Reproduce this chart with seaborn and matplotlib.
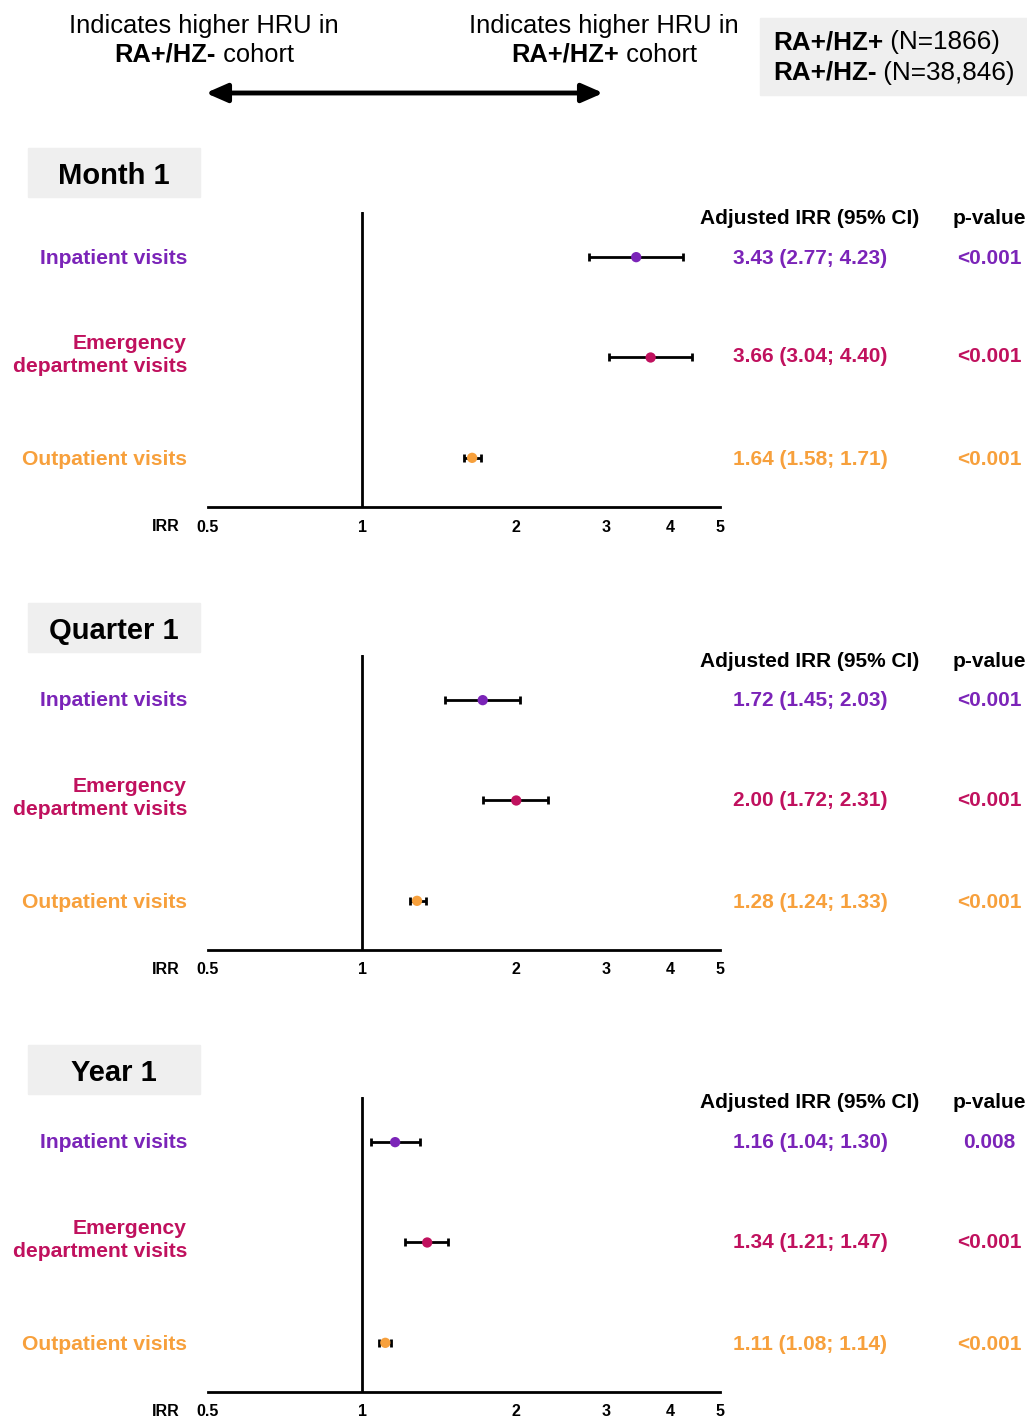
import numpy as np
import pandas as pd
import matplotlib
matplotlib.use("Agg")
import matplotlib.pyplot as plt
import seaborn as sns

# dados
periods = ["Month 1", "Quarter 1", "Year 1"]
outcomes = ["Inpatient visits", "Emergency\ndepartment visits", "Outpatient visits"]
irr = [[3.43, 3.66, 1.64], [1.72, 2.00, 1.28], [1.16, 1.34, 1.11]]
ci_low = [[2.77, 3.04, 1.58], [1.45, 1.72, 1.24], [1.04, 1.21, 1.08]]
ci_high = [[4.23, 4.40, 1.71], [2.03, 2.31, 1.33], [1.30, 1.47, 1.14]]
pvals = [["<0.001", "<0.001", "<0.001"], ["<0.001", "<0.001", "<0.001"], ["0.008", "<0.001", "<0.001"]]
xticks = [0.5, 1, 2, 3, 4, 5]
xticklabels = ["0.5", "1", "2", "3", "4", "5"]
colors = ["#7B24B8", "#C0115E", "#F7A03C"]

sns.set_theme(style="white")
plt.rcParams["font.family"] = ["Liberation Sans", "DejaVu Sans"]
plt.rcParams["text.color"] = "black"
plt.rcParams["xtick.color"] = "black"
plt.rcParams["xtick.labelcolor"] = "black"

W, H = 1027, 1418
fig = plt.figure(figsize=(W / 100, H / 100), dpi=100)


def fx(x):
    return x / W


def fy(y):
    return 1 - y / H


# cabecalho
fig.text(fx(204), fy(23), "Indicates higher HRU in", ha="center", va="center_baseline", fontsize=18.4)
fig.text(fx(604), fy(23), "Indicates higher HRU in", ha="center", va="center_baseline", fontsize=18.4)


def mixed(x, y, bold, normal, ha="center", size=18.4):
    # parte em negrito + parte normal na mesma linha
    t1 = fig.text(fx(x), fy(y), bold, fontsize=size, fontweight="bold", va="baseline", ha="left")
    t2 = fig.text(0, 0, normal, fontsize=size, va="baseline", ha="left")
    fig.canvas.draw()
    r = fig.canvas.get_renderer()
    w1 = t1.get_window_extent(r).width
    w2 = t2.get_window_extent(r).width
    x0 = x - (w1 + w2) / 2 if ha == "center" else x
    t1.set_position((fx(x0), fy(y)))
    t2.set_position((fx(x0 + w1), fy(y)))


mixed(204, 62, "RA+/HZ-", " cohort")
mixed(604, 62, "RA+/HZ+", " cohort")

fig.patches.append(plt.Rectangle((fx(760), fy(95)), fx(267), 77 / H, transform=fig.transFigure,
                                 color="#EFEFEF", zorder=0))
mixed(773, 49, "RA+/HZ+", " (N=1866)", ha="left", size=18.8)
mixed(773, 80, "RA+/HZ-", " (N=38,846)", ha="left", size=18.8)

fig.add_artist(matplotlib.patches.FancyArrowPatch(
    (fx(203), fy(93)), (fx(606), fy(93)), transform=fig.transFigure,
    arrowstyle="<|-|>,head_length=8,head_width=3.5", lw=3.5, color="black", mutation_scale=1.6))

# paineis
axis_offsets = [0, 443, 885]
title_y = [173, 628, 1070]
for i, period in enumerate(periods):
    off = axis_offsets[i]
    ax_bottom = 507 + off
    ax_top = 212 + off
    ax = fig.add_axes([fx(208), fy(ax_bottom), 512 / W, (ax_bottom - ax_top) / H])
    df = pd.DataFrame({"outcome": outcomes, "irr": irr[i], "lo": ci_low[i], "hi": ci_high[i],
                       "y": [3, 2, 1]})
    ax.errorbar(df["irr"], df["y"], xerr=[df["irr"] - df["lo"], df["hi"] - df["irr"]],
                fmt="none", ecolor="black", elinewidth=2, capsize=3, capthick=2, zorder=2)
    sns.scatterplot(data=df, x="irr", y="y", hue="outcome", palette=colors, s=55,
                    edgecolor="none", legend=False, ax=ax, zorder=3)
    ax.axvline(1, color="black", lw=2, zorder=1)
    ax.set_xscale("log")
    ax.set_xlim(0.5, 5)
    ax.set_ylim(0.51, 3.45)
    ax.set_xticks(xticks)
    ax.set_xticklabels(xticklabels, fontweight="bold", fontsize=11.5)
    ax.minorticks_off()
    ax.tick_params(axis="x", direction="in", length=6, width=2, pad=9, color="black")
    for j, tk in enumerate(ax.xaxis.get_major_ticks()):
        if j not in (0, len(xticks) - 1):
            tk.tick1line.set_visible(False)
    ax.set_yticks([])
    ax.set_xlabel("")
    ax.set_ylabel("")
    for s in ["top", "right", "left"]:
        ax.spines[s].set_visible(False)
    ax.spines["bottom"].set_linewidth(2)
    ax.spines["bottom"].set_color("black")
    ax.patch.set_alpha(0)

    fig.text(fx(166), fy(525 + off), "IRR", ha="center", va="center_baseline", fontsize=11.5,
             fontweight="bold")

    # titulo do painel
    ty = title_y[i]
    fig.patches.append(plt.Rectangle((fx(28), fy(ty + 24)), fx(172), 49 / H,
                                     transform=fig.transFigure, color="#EFEFEF", zorder=0))
    fig.text(fx(114), fy(ty), period, ha="center", va="center_baseline", fontsize=21, fontweight="bold")

    fig.text(fx(810), fy(216 + off), "Adjusted IRR (95% CI)", ha="center", va="center_baseline",
             fontsize=15, fontweight="bold")
    fig.text(fx(989), fy(216 + off), "p-value", ha="center", va="center_baseline", fontsize=15,
             fontweight="bold")

    rows_y = [256, 355, 458]
    for k in range(3):
        y = rows_y[k] + off
        va = "center" if "\n" in outcomes[k] else "center_baseline"
        fig.text(fx(187), fy(y), outcomes[k], ha="right", va=va, ma="right", fontsize=15.2,
                 fontweight="bold", color=colors[k], linespacing=1.25)
        fig.text(fx(810), fy(y), f"{irr[i][k]:.2f} ({ci_low[i][k]:.2f}; {ci_high[i][k]:.2f})",
                 ha="center", va="center_baseline", fontsize=15, fontweight="bold", color=colors[k])
        fig.text(fx(989), fy(y), pvals[i][k], ha="center", va="center_baseline", fontsize=15,
                 fontweight="bold", color=colors[k])

fig.savefig("out.png", dpi=100)
